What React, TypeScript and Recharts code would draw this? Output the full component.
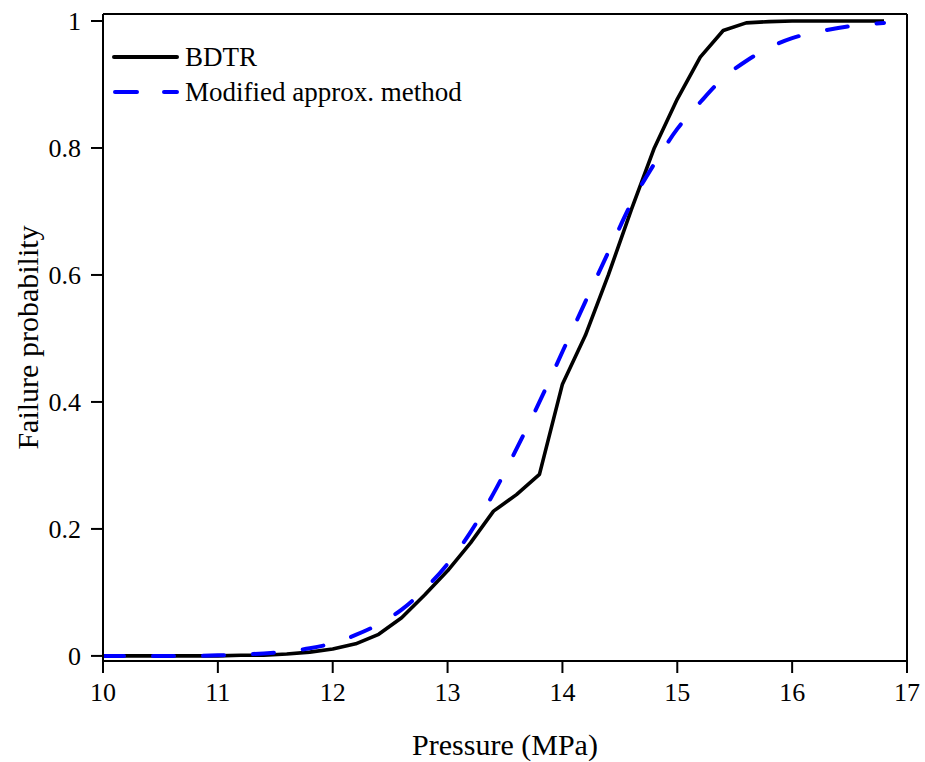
import React from 'react';
import { LineChart, Line, XAxis, YAxis } from 'recharts';

const pressure = [10, 10.2, 10.4, 10.6, 10.8, 11, 11.2, 11.4, 11.6, 11.8, 12, 12.2, 12.4, 12.6, 12.8, 13, 13.2, 13.4, 13.6, 13.8, 14, 14.2, 14.4, 14.6, 14.8, 15, 15.2, 15.4, 15.6, 15.8, 16, 16.2, 16.4, 16.6, 16.8];
const bdtr = [0, 0, 0, 0, 0, 0, 0.001, 0.001, 0.003, 0.006, 0.011, 0.019, 0.034, 0.06, 0.096, 0.134, 0.178, 0.228, 0.254, 0.286, 0.428, 0.505, 0.6, 0.703, 0.8, 0.877, 0.943, 0.985, 0.997, 0.999, 1, 1, 1, 1, 1];
const modified = [0, 0, 0, 0, 0, 0.001, 0.002, 0.004, 0.007, 0.012, 0.02, 0.033, 0.05, 0.073, 0.105, 0.145, 0.195, 0.256, 0.326, 0.4, 0.479, 0.558, 0.636, 0.713, 0.775, 0.83, 0.872, 0.91, 0.937, 0.958, 0.973, 0.982, 0.989, 0.994, 0.997];
const xTicks = [10, 11, 12, 13, 14, 15, 16, 17];
const yTicks = [0, 0.2, 0.4, 0.6, 0.8, 1];
const seriesNames = ['BDTR', 'Modified approx. method'];
const xLabel = 'Pressure (MPa)';
const yLabel = 'Failure probability';

const data = pressure.map((p, i) => ({ p, bdtr: bdtr[i], modified: modified[i] }));

const FONT = '"Liberation Serif", "Times New Roman", serif';

const XLabel = (props: any) => {
  const vb = props.viewBox || {};
  const cx = vb.x + vb.width / 2;
  const y = vb.y + vb.height - 7;
  return (
    <text x={cx} y={y} textAnchor="middle" fontFamily={FONT} fontSize={30} fill="#000">
      {xLabel}
    </text>
  );
};

const YLabel = (props: any) => {
  const vb = props.viewBox || {};
  const cx = vb.x + 27;
  const cy = vb.y + vb.height / 2;
  return (
    <text
      x={cx}
      y={cy}
      textAnchor="middle"
      dominantBaseline="central"
      transform={`rotate(-90, ${cx}, ${cy})`}
      fontFamily={FONT}
      fontSize={30}
      fill="#000"
    >
      {yLabel}
    </text>
  );
};

export default function App() {
  const tickStyle = { fontFamily: FONT, fontSize: 26, fill: '#000' };
  return (
    <div style={{ position: 'fixed', left: 0, top: 0, width: 925, height: 762, background: '#fff' }}>
      <LineChart
        width={925}
        height={762}
        data={data}
        margin={{ top: 14, right: 18, left: 0, bottom: 0 }}
      >
        <XAxis
          xAxisId="bottom"
          dataKey="p"
          type="number"
          domain={[10, 17]}
          ticks={xTicks}
          allowDataOverflow
          height={101}
          stroke="#000"
          strokeWidth={2}
          tickSize={12}
          tickMargin={10}
          tick={tickStyle}
          tickLine={{ stroke: '#000', strokeWidth: 2 }}
          label={XLabel}
        />
        <XAxis
          xAxisId="top"
          dataKey="p"
          type="number"
          orientation="top"
          domain={[10, 17]}
          ticks={xTicks}
          allowDataOverflow
          height={30}
          mirror
          stroke="#000"
          strokeWidth={2}
          tickSize={12}
          tick={false}
          tickLine={{ stroke: '#000', strokeWidth: 2 }}
        />
        <YAxis
          yAxisId="left"
          type="number"
          domain={[-0.008, 1.011]}
          ticks={yTicks}
          allowDataOverflow
          width={103}
          stroke="#000"
          strokeWidth={2}
          tickSize={12}
          tickMargin={10}
          tick={tickStyle}
          tickLine={{ stroke: '#000', strokeWidth: 2 }}
          tickFormatter={(v: number) => String(v)}
          label={YLabel}
        />
        <YAxis
          yAxisId="right"
          orientation="right"
          type="number"
          domain={[-0.008, 1.011]}
          ticks={yTicks}
          allowDataOverflow
          width={30}
          mirror
          stroke="#000"
          strokeWidth={2}
          tickSize={12}
          tick={false}
          tickLine={{ stroke: '#000', strokeWidth: 2 }}
        />
        <Line
          xAxisId="bottom"
          yAxisId="left"
          type="linear"
          dataKey="bdtr"
          name={seriesNames[0]}
          stroke="#000"
          strokeWidth={3.6}
          strokeLinejoin="round"
          dot={false}
          isAnimationActive={false}
        />
        <Line
          xAxisId="bottom"
          yAxisId="left"
          type="monotone"
          dataKey="modified"
          name={seriesNames[1]}
          stroke="#0000ff"
          strokeWidth={4}
          strokeDasharray="21 29"
          strokeLinecap="round"
          dot={false}
          isAnimationActive={false}
        />
      </LineChart>
      <svg
        width={420}
        height={80}
        style={{ position: 'absolute', left: 100, top: 30, pointerEvents: 'none' }}
      >
        <line x1={14} y1={27} x2={77} y2={27} stroke="#000" strokeWidth={4} strokeLinecap="round" />
        <text x={85} y={36} fontFamily={FONT} fontSize={27} fill="#000">
          {seriesNames[0]}
        </text>
        <line
          x1={15}
          y1={62}
          x2={77}
          y2={62}
          stroke="#0000ff"
          strokeWidth={4}
          strokeDasharray="22 27"
          strokeLinecap="round"
        />
        <text x={85} y={71} fontFamily={FONT} fontSize={27} fill="#000">
          {seriesNames[1]}
        </text>
      </svg>
    </div>
  );
}
